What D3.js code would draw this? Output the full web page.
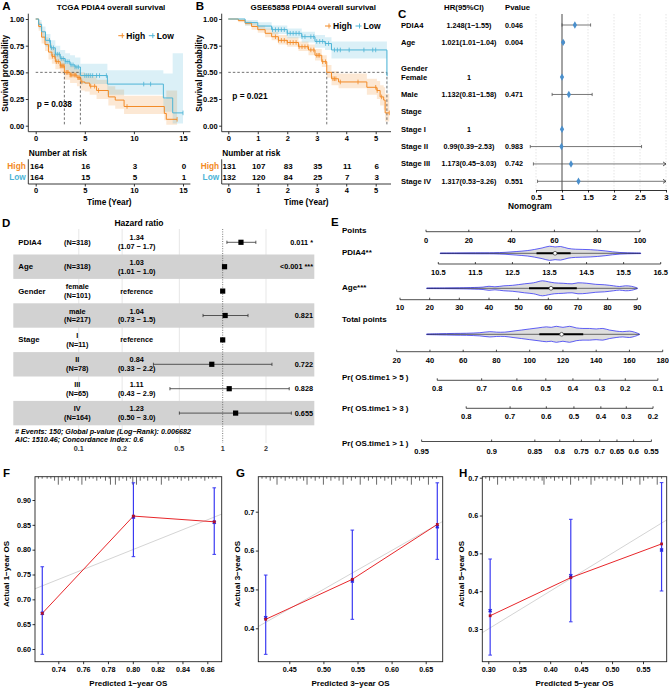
<!DOCTYPE html>
<html><head><meta charset="utf-8">
<script src="https://cdn.jsdelivr.net/npm/d3@7/dist/d3.min.js"></script>
<style>
html,body{margin:0;padding:0;background:#fff;}
svg text{font-family:"Liberation Sans",Arial,Helvetica,sans-serif;font-weight:bold;}
</style></head><body>
<svg id="fig" width="669" height="689" xmlns="http://www.w3.org/2000/svg"></svg>
<script>
// ================= DATA =================
// Panel A: TCGA Kaplan-Meier
const aHighTime=[0,0.3,0.6,0.95,1.3,1.65,2.0,2.5,2.92,3.5,4.2,4.6,5.0,5.5,6.2,7.4,8.1,9.0,13.1,13.3];
const aHighSurv=[1,0.93,0.83,0.76,0.69,0.65,0.60,0.56,0.50,0.475,0.45,0.41,0.40,0.37,0.33,0.27,0.24,0.18,0.115,0.06];
const aHighLower=[1,0.89,0.77,0.70,0.62,0.58,0.53,0.49,0.43,0.40,0.37,0.33,0.32,0.29,0.25,0.19,0.16,0.11,0.05,0.01];
const aHighUpper=[1,0.97,0.89,0.83,0.77,0.73,0.68,0.64,0.58,0.56,0.53,0.50,0.49,0.46,0.43,0.37,0.34,0.28,0.25,0.33];
const aHighEnd=14.4;
const aHighCensor=[1.7,1.9,2.1,2.3,2.5,2.6,2.7,2.8,2.9,3.1,3.2,3.3,3.5,3.6,3.7,3.9,4.0,4.1,4.3,4.4,4.5,4.7,5.6,6.0,6.4,9.3,14.4];
const aLowTime=[0,0.3,0.6,1.0,1.5,2.0,2.5,3.0,3.5,4.0,4.55,7.3,13.0,13.95];
const aLowSurv=[1,0.95,0.88,0.80,0.73,0.67,0.63,0.60,0.57,0.55,0.47,0.39,0.26,0.12];
const aLowLower=[1,0.91,0.83,0.74,0.66,0.60,0.56,0.52,0.49,0.47,0.39,0.29,0.13,0.02];
const aLowUpper=[1,0.99,0.93,0.86,0.80,0.75,0.71,0.68,0.66,0.64,0.58,0.52,0.49,0.68];
const aLowEnd=15.0;
const aLowCensor=[1.4,1.6,1.8,2.0,2.2,2.4,2.6,2.8,3.0,3.2,3.4,3.6,3.8,4.0,4.2,4.35,5.0,5.2,5.4,5.6,5.8,6.2,6.5,7.2,11.0,11.7,15.0];
const aMedians=[2.92,4.55];
const aTimeTicks=[0,5,10,15];
const aRiskHigh=[164,16,3,0];
const aRiskLow=[164,15,5,1];

// Panel B: GSE65858 Kaplan-Meier
const bHighTime=[0,0.34,0.57,0.79,1.0,1.25,1.47,1.7,2.0,2.38,2.72,2.94,3.17,3.34,3.5,3.74,4.7,5.04,5.15,5.27,5.32];
const bHighSurv=[1,0.985,0.96,0.93,0.90,0.866,0.834,0.80,0.78,0.74,0.71,0.66,0.60,0.50,0.44,0.41,0.36,0.33,0.27,0.24,0.12];
const bHighLower=[1,0.97,0.94,0.90,0.87,0.83,0.80,0.76,0.74,0.70,0.66,0.61,0.55,0.45,0.38,0.35,0.29,0.25,0.19,0.15,0.04];
const bHighUpper=[1,1,0.98,0.96,0.94,0.91,0.88,0.85,0.83,0.79,0.76,0.72,0.66,0.57,0.51,0.49,0.44,0.42,0.38,0.36,0.30];
const bHighEnd=5.46;
const bHighCensor=[1.6,1.7,1.8,1.9,2.0,2.1,2.2,2.3,2.4,2.5,2.6,2.7,2.8,2.9,3.0,3.05,3.1,3.2,3.3,3.55,3.6,3.65,3.8,4.4,5.0,5.05,5.2,5.46];
const bLowTime=[0,0.57,1.0,1.47,2.0,2.49,2.94,3.28,3.5,5.38];
const bLowSurv=[1,0.966,0.934,0.90,0.866,0.834,0.79,0.77,0.71,0.47];
const bLowLower=[1,0.94,0.90,0.86,0.82,0.78,0.73,0.71,0.63,0.30];
const bLowUpper=[1,0.99,0.97,0.94,0.91,0.88,0.85,0.83,0.79,0.70];
const bLowEnd=5.40;
const bLowCensor=[1.5,1.6,1.7,1.8,1.9,2.0,2.1,2.2,2.3,2.4,2.5,2.6,2.8,2.9,3.0,3.1,3.2,3.3,3.4,3.6,3.7,3.8,4.1,4.6,4.9,5.0];
const bMedians=[3.34,5.38];
const bTimeTicks=[0,1,2,3,4,5];
const bRiskHigh=[131,107,83,35,11,6];
const bRiskLow=[132,120,84,25,7,3];

// Panel C: multivariate forest
const cLabels=["PDIA4","Age","Gender","Female","Male","Stage","Stage I","Stage II","Stage III","Stage IV"];
const cHRText=["1.248(1\u22121.55)","1.021(1.01\u22121.04)","","1","1.132(0.81\u22121.58)","","1","0.99(0.39\u22122.53)","1.173(0.45\u22123.03)","1.317(0.53\u22123.26)"];
const cPText=["0.046","0.004","","","0.471","","","0.983","0.742","0.551"];
const cHR=[1.248,1.021,null,1,1.132,null,1,0.99,1.173,1.317];
const cLow=[1,1.01,null,null,0.81,null,null,0.39,0.45,0.53];
const cHigh=[1.55,1.04,null,null,1.58,null,null,2.53,3.03,3.26];
const cTicks=[0.5,1,1.5,2,2.5,3];

// Panel D: ggforest
const dVars=["PDIA4","Age","Gender","","Stage","","",""];
const dGroups=[["(N=318)"],["(N=318)"],["female","(N=101)"],["male","(N=217)"],["I","(N=11)"],["II","(N=78)"],["III","(N=65)"],["IV","(N=164)"]];
const dHRText=[["1.34","(1.07 \u2212 1.7)"],["1.03","(1.01 \u2212 1.0)"],["reference"],["1.04","(0.73 \u2212 1.5)"],["reference"],["0.84","(0.33 \u2212 2.2)"],["1.11","(0.43 \u2212 2.9)"],["1.23","(0.50 \u2212 3.0)"]];
const dHR=[1.34,1.03,1,1.04,1,0.84,1.11,1.23];
const dLow=[1.07,1.01,null,0.73,null,0.33,0.43,0.50];
const dHigh=[1.7,1.05,null,1.5,null,2.2,2.9,3.0];
const dP=["0.011 *","<0.001 ***","","0.821","","0.722","0.828","0.655"];
const dTicks=[0.1,0.2,0.5,1,2];
const dFoot=["# Events: 150; Global p-value (Log\u2212Rank): 0.006682","AIC: 1510.46; Concordance Index: 0.6"];

// Panel E: nomogram
const ePointTicks=[0,20,40,60,80,100];
const ePdia4Ticks=[10.5,11.5,12.5,13.5,14.5,15.5,16.5];
const eAgeTicks=[10,20,30,40,50,60,70,80,90];
const eTotalTicks=[20,40,60,80,100,120,140,160,180];
const ePr5Labels=["0.8","0.7","0.6","0.5","0.4","0.3","0.2","0.1"];
const ePr5Points=[44.4,71.1,92.3,109.7,126.0,142.2,157.5,177.1];
const ePr3Labels=["0.8","0.7","0.6","0.5","0.4","0.3","0.2"];
const ePr3Points=[61.8,88.2,110.0,126.6,142.8,158.1,174.2];
const ePr1Labels=["0.95","0.9","0.85","0.8","0.75","0.7","0.65","0.6","0.55"];
const ePr1Points=[35.0,77.1,103.1,118.1,131.1,142.1,152.5,162.5,173.2];
const ePdia4DensV=[10.55,11.0,11.5,12.0,12.3,12.6,12.9,13.1,13.3,13.5,13.65,13.8,14.0,14.2,14.4,14.6,14.8,15.0,15.2,15.4,15.6,15.8,15.96];
const ePdia4DensW=[0.04,0.05,0.07,0.08,0.13,0.24,0.37,0.53,0.73,0.97,0.87,0.93,0.67,0.56,0.53,0.5,0.43,0.33,0.2,0.11,0.07,0.05,0.04];
const ePdia4Box=[13.15,13.65,14.07];
const eAgeDensV=[19,25,30,35,38,40,42,45,48,52,55,58,60,62,65,68,70,73,76,79,82,84,86,88,90];
const eAgeDensW=[0.04,0.05,0.07,0.11,0.16,0.27,0.2,0.33,0.4,0.6,0.73,1.0,0.87,0.73,0.67,0.6,0.73,0.67,0.53,0.47,0.33,0.24,0.33,0.27,0.05];
const eAgeBox=[53.5,60.9,69.6];
const eTotalDensV=[38,45,55,62,70,76,80,85,90,95,100,105,110,113,116,120,124,128,132,136,140,144,148,152,156,160,163,166];
const eTotalDensW=[0.04,0.07,0.11,0.13,0.2,0.33,0.27,0.27,0.4,0.53,0.67,0.8,0.93,0.87,1.0,0.87,1.0,0.8,0.73,0.73,0.67,0.73,0.53,0.4,0.33,0.4,0.27,0.04];
const eTotalBox=[105.8,119.2,132.2];

// Panels F-H: calibration
const fPred=[0.7271,0.8005,0.8656], fObs=[0.6718,0.8676,0.8561], fObsCorr=[0.672,0.866,0.855], fLow=[0.5893,0.7859,0.7905], fHigh=[0.7656,0.9346,0.9245];
const gPred=[0.4154,0.5424,0.667], gObs=[0.4231,0.526,0.6673], gObsCorr=[0.427,0.522,0.661], gLow=[0.333,0.4231,0.5774], gHigh=[0.537,0.6527,0.7743];
const hPred=[0.303,0.4333,0.58], hObs=[0.335,0.4357,0.5249], hObsCorr=[0.348,0.441,0.509], hLow=[0.231,0.319,0.4005], hHigh=[0.485,0.590,0.687];
const fXTicks=[0.74,0.76,0.78,0.80,0.82,0.84,0.86], fYTicks=[0.60,0.65,0.70,0.75,0.80,0.85,0.90];
const gXTicks=[0.45,0.50,0.55,0.60,0.65], gYTicks=[0.4,0.5,0.6,0.7];
const hXTicks=[0.30,0.35,0.40,0.45,0.50,0.55], hYTicks=[0.3,0.4,0.5,0.6,0.7];
const fRugX=[0.724,0.727,0.731,0.734,0.737,0.740,0.743,0.746,0.749,0.753,0.756,0.759,0.762,0.765,0.768,0.771,0.774,0.778,0.781,0.782,0.786,0.789,0.792,0.795,0.798,0.800,0.803,0.806,0.809,0.812,0.816,0.819,0.823,0.826,0.829,0.833,0.836,0.839,0.842,0.845,0.848,0.851,0.855,0.858,0.861,0.864,0.867];
const fRugN=[1,1,1,1,2,4,2,1,2,1,2,4,2,1,1,2,1,2,1,4,4,2,1,2,1,4,4,2,1,2,1,2,4,1,2,1,1,2,1,2,1,1,1,2,1,1,1];
const gRugX=[0.410,0.416,0.422,0.427,0.432,0.438,0.444,0.450,0.455,0.461,0.466,0.471,0.476,0.482,0.488,0.494,0.500,0.505,0.511,0.517,0.523,0.529,0.535,0.541,0.547,0.554,0.560,0.566,0.572,0.578,0.584,0.590,0.595,0.600,0.606,0.612,0.618,0.623,0.629,0.635,0.641,0.647,0.654,0.660,0.666];
const gRugN=[1,1,2,1,4,1,2,1,1,2,1,2,4,1,2,1,4,1,2,1,2,4,1,2,1,4,1,2,1,4,1,2,1,4,2,1,1,2,4,1,2,1,4,1,1];
const hRugX=[0.296,0.302,0.309,0.315,0.322,0.328,0.335,0.341,0.348,0.355,0.361,0.368,0.374,0.381,0.387,0.390,0.394,0.401,0.407,0.414,0.420,0.427,0.433,0.440,0.446,0.453,0.459,0.466,0.472,0.479,0.485,0.492,0.498,0.505,0.511,0.517,0.524,0.530,0.537,0.545,0.551,0.558,0.565,0.573,0.580];
const hRugN=[1,2,1,4,1,2,1,2,1,1,2,1,2,1,2,4,1,1,2,1,2,1,4,1,2,1,1,4,2,1,1,2,1,2,1,4,1,2,1,4,2,1,1,4,1];

// ================= DRAWING =================
const svg=d3.select("#fig");
svg.append("rect").attr("width",669).attr("height",689).attr("fill","#fff");
const ORANGE="#F28A26", BLUE="#4DB4D6";

function T(g,x,y,s,o={}){
  const t=g.append("text").attr("x",x).attr("y",y).text(s)
    .attr("font-size",o.size||7.5)
    .attr("text-anchor",o.anchor||"start")
    .attr("dominant-baseline","central");
  if(o.color) t.style("fill",o.color);
  if(o.italic) t.style("font-style","italic");
  if(o.rotate) t.attr("transform",`rotate(${o.rotate},${x},${y})`);
  return t;
}
function L(g,x1,y1,x2,y2,col,w,dash){
  const l=g.append("line").attr("x1",x1).attr("y1",y1).attr("x2",x2).attr("y2",y2)
    .attr("stroke",col||"#000").attr("stroke-width",w||0.8);
  if(dash) l.attr("stroke-dasharray",dash);
  return l;
}
function styleAxis(sel,size){
  sel.attr("font-size",size||7.5).attr("font-family",null);
  sel.selectAll(".tick line").attr("stroke-width",0.8);
}

// ---------- Kaplan-Meier panels ----------
function drawKM(c){
  const g=svg.append("g");
  const x=d3.scaleLinear().domain([0,c.ticks[c.ticks.length-1]]).range([c.x0,c.x1]);
  const y=d3.scaleLinear().domain([0,1]).range([125.7,19]);
  const groups=[
    {t:c.high[0],s:c.high[1],lo:c.high[2],hi:c.high[3],end:c.high[4],cen:c.high[5],col:ORANGE},
    {t:c.low[0],s:c.low[1],lo:c.low[2],hi:c.low[3],end:c.low[4],cen:c.low[5],col:BLUE}
  ];
  groups.forEach(gr=>{
    const pts=gr.t.map((t,i)=>({t:t,s:gr.s[i],lo:gr.lo[i],hi:gr.hi[i]}));
    const last=pts[pts.length-1];
    pts.push({t:gr.end,s:last.s,lo:last.lo,hi:last.hi});
    gr.pts=pts;
    g.append("path").attr("d",d3.area().curve(d3.curveStepAfter).x(d=>x(d.t)).y0(d=>y(d.lo)).y1(d=>y(d.hi))(pts))
      .attr("fill",gr.col).attr("fill-opacity",0.2).attr("stroke","none");
  });
  // median lines
  const mMax=d3.max(c.medians);
  L(g,x(0),y(0.5),x(mMax),y(0.5),"#333",0.7,"2.5,2");
  c.medians.forEach(m=>L(g,x(m),y(0.5),x(m),y(0),"#333",0.7,"2.5,2"));
  groups.forEach(gr=>{
    g.append("path").attr("d",d3.line().curve(d3.curveStepAfter).x(d=>x(d.t)).y(d=>y(d.s))(gr.pts))
      .attr("fill","none").attr("stroke",gr.col).attr("stroke-width",1);
    gr.cen.forEach(t=>{
      const i=Math.max(0,d3.bisectRight(gr.t,t)-1);
      const s=gr.s[i];
      L(g,x(t),y(s)-2.3,x(t),y(s)+2.3,gr.col,0.8);
    });
  });
  // axes
  const ya=g.append("g").attr("transform",`translate(${c.ax},0)`)
    .call(d3.axisLeft(y).tickValues([0,0.25,0.5,0.75,1]).tickFormat(d3.format(".2f")).tickSize(2.5).tickPadding(1.5));
  ya.select(".domain").remove(); styleAxis(ya,7.5);
  L(g,c.ax,13.7,c.ax,131.7,"#222",0.9);
  const xa=g.append("g").attr("transform","translate(0,131.7)")
    .call(d3.axisBottom(x).tickValues(c.ticks).tickFormat(d3.format("d")).tickSize(2.5).tickPadding(1.5));
  xa.select(".domain").remove(); styleAxis(xa,7.5);
  L(g,c.ax,131.7,c.axEnd,131.7,"#222",0.9);
  T(g,c.ax-22.8,73.3,"Survival probability",{size:8.3,anchor:"middle",rotate:-90});
  // title & label
  T(g,c.titleX,7,c.title,{size:8,anchor:"middle"});
  T(g,c.ax-26,6,c.label,{size:11.5});
  // legend
  const lx=c.legX, ly=c.legY;
  [[ORANGE,"High",0],[BLUE,"Low",30.5]].forEach(([col,lab,off])=>{
    L(g,lx+off,ly,lx+off+6,ly,col,1);
    L(g,lx+off+4,ly-2.5,lx+off+4,ly+2.5,col,0.9);
    T(g,lx+off+8,ly,lab,{size:8.5});
  });
  T(g,c.pX,c.pY,c.pText,{size:8.3});
  // risk table
  T(g,c.ax+0.5,153,"Number at risk",{size:8.3});
  T(g,c.ax-2.5,166,"High",{size:8.3,anchor:"end",color:ORANGE});
  T(g,c.ax-2.5,177,"Low",{size:8.3,anchor:"end",color:BLUE});
  c.ticks.forEach((tk,i)=>{
    T(g,x(tk)+1,166,String(c.riskHigh[i]),{size:8,anchor:"middle"});
    T(g,x(tk)+1,177,String(c.riskLow[i]),{size:8,anchor:"middle"});
  });
  L(g,c.ax,159.3,c.ax,184,"#222",0.9);
  const ra=g.append("g").attr("transform","translate(0,184)")
    .call(d3.axisBottom(x).tickValues(c.ticks).tickFormat(d3.format("d")).tickSize(2.5).tickPadding(1.5));
  ra.select(".domain").remove(); styleAxis(ra,7.5);
  L(g,c.ax,184,c.axEnd,184,"#222",0.9);
  T(g,(c.ax+c.axEnd)/2,202,"Time (Year)",{size:8.3,anchor:"middle"});
}
drawKM({x0:35.7,x1:183,ax:28.3,axEnd:190.4,ticks:aTimeTicks,medians:aMedians,
  high:[aHighTime,aHighSurv,aHighLower,aHighUpper,aHighEnd,aHighCensor],
  low:[aLowTime,aLowSurv,aLowLower,aLowUpper,aLowEnd,aLowCensor],
  title:"TCGA PDIA4 overall survival",titleX:111,label:"A",legX:118.3,legY:35.7,
  pText:"p = 0.038",pX:36.7,pY:104.3,riskHigh:aRiskHigh,riskLow:aRiskLow});
drawKM({x0:228.3,x1:375.7,ax:221.7,axEnd:391,ticks:bTimeTicks,medians:bMedians,
  high:[bHighTime,bHighSurv,bHighLower,bHighUpper,bHighEnd,bHighCensor],
  low:[bLowTime,bLowSurv,bLowLower,bLowUpper,bLowEnd,bLowCensor],
  title:"GSE65858 PDIA4 overall survival",titleX:313.3,label:"B",legX:325,legY:26,
  pText:"p = 0.021",pX:232.3,pY:96,riskHigh:bRiskHigh,riskLow:bRiskLow});

// ---------- Panel C ----------
(function(){
  const g=svg.append("g");
  const x=d3.scaleLinear().domain([0.5,3]).range([536,666]);
  const row=d3.scaleLinear().domain([0,9]).range([25,181.3]);
  const rowIdx=i=>(cLabels[i]==="Gender"?2.5:i);
  T(g,398,14,"C",{size:11.5});
  T(g,464,7,"HR(95%CI)",{size:7.8,anchor:"middle"});
  T(g,505,7,"Pvalue",{size:7.8});
  cTicks.filter(v=>v!==1).forEach(v=>L(g,x(v),14,x(v),190,"#c8c8c8",0.5,"1.5,1.5"));
  L(g,x(1),14,x(1),190,"#333",0.9);
  cLabels.forEach((lab,i)=>{
    const yy=row(rowIdx(i));
    T(g,401,yy,lab,{size:7.6});
    if(cHRText[i]) T(g,469,yy,cHRText[i],{size:7.2,anchor:"middle"});
    if(cPText[i]) T(g,505,yy,cPText[i],{size:7.2});
    if(cHR[i]!=null){
      if(cLow[i]!=null){
        const hiClip=Math.min(cHigh[i],3);
        L(g,x(cLow[i]),yy,x(hiClip),yy,"#555",0.8);
        L(g,x(cLow[i]),yy-1.6,x(cLow[i]),yy+1.6,"#555",0.8);
        if(cHigh[i]>3){
          g.append("path").attr("d",`M${x(3)-3},${yy-2}L${x(3)},${yy}L${x(3)-3},${yy+2}`).attr("fill","none").attr("stroke","#333").attr("stroke-width",0.8);
        } else {
          L(g,x(cHigh[i]),yy-1.6,x(cHigh[i]),yy+1.6,"#555",0.8);
        }
      }
      g.append("path").attr("d",d3.symbol().type(d3.symbolDiamond).size(16)())
        .attr("transform",`translate(${x(cHR[i])},${yy})`).attr("fill","#4A8FCC");
    }
  });
  const xa=g.append("g").attr("transform","translate(0,190)")
    .call(d3.axisBottom(x).tickValues(cTicks).tickFormat(d=>String(d)).tickSize(2.5).tickSizeOuter(0).tickPadding(1.5));
  styleAxis(xa,7.8);
  xa.select(".domain").attr("stroke-width",0.8);
})();

// ---------- Panel D ----------
(function(){
  const g=svg.append("g");
  const x=d3.scaleLog().domain([0.1,2]).range([78.8,266]);
  const row=d3.scaleLinear().domain([0,7]).range([242.3,413.1]);
  const h=24.4;
  T(g,2,223,"D",{size:11.5});
  T(g,139,223,"Hazard ratio",{size:8.5,anchor:"middle"});
  dTicks.filter(v=>v!==1).forEach(v=>L(g,x(v),229,x(v),443,"#dcdcdc",0.7));
  dVars.forEach((v,i)=>{
    if(i%2===1) g.append("rect").attr("x",13.3).attr("y",row(i)-h/2).attr("width",301).attr("height",h).attr("fill","#d2d2d2");
  });
  L(g,x(1),229,x(1),443,"#444",0.7,"1,1.4");
  dVars.forEach((v,i)=>{
    const yy=row(i);
    if(v) T(g,18.3,yy,v,{size:7.8});
    const gr=dGroups[i];
    if(gr.length===1) T(g,77.3,yy,gr[0],{size:7.3,anchor:"middle"});
    else { T(g,77.3,yy-4.4,gr[0],{size:7.3,anchor:"middle"}); T(g,77.3,yy+4.4,gr[1],{size:7.3,anchor:"middle"}); }
    const hr=dHRText[i];
    if(hr.length===1) T(g,136.7,yy,hr[0],{size:7.3,anchor:"middle"});
    else { T(g,136.7,yy-4.4,hr[0],{size:7.3,anchor:"middle"}); T(g,136.7,yy+4.4,hr[1],{size:7.3,anchor:"middle"}); }
    if(dP[i]) T(g,313,yy,dP[i],{size:7.3,anchor:"end"});
    if(dLow[i]!=null){
      L(g,x(dLow[i]),yy,x(dHigh[i]),yy,"#333",0.8);
      L(g,x(dLow[i]),yy-1.6,x(dLow[i]),yy+1.6,"#333",0.8);
      L(g,x(dHigh[i]),yy-1.6,x(dHigh[i]),yy+1.6,"#333",0.8);
    }
    g.append("rect").attr("x",x(dHR[i])-2.6).attr("y",yy-2.6).attr("width",5.2).attr("height",5.2).attr("fill","#000");
  });
  T(g,15,431.7,dFoot[0],{size:7.2,italic:true});
  T(g,15,439.3,dFoot[1],{size:7.2,italic:true});
  dTicks.forEach(v=>T(g,x(v),448.5,String(v),{size:7.2,anchor:"middle",color:"#333"}));
})();

// ---------- Panel E ----------
(function(){
  const g=svg.append("g");
  const ptsX=d3.scaleLinear().domain([0,100]).range([426,640]);
  const pdX=d3.scaleLinear().domain([10.5,16.5]).range([438.3,660.7]);
  const ageX=d3.scaleLinear().domain([10,90]).range([400,637.3]);
  const totX=d3.scaleLinear().domain([20,180]).range([396.7,662.7]);
  T(g,331,222,"E",{size:11.5});
  T(g,530,206,"Nomogram",{size:8.3,anchor:"middle"});
  function axisRow(yLine,yLab,positions,labels){
    L(g,d3.min(positions),yLine,d3.max(positions),yLine,"#000",0.7);
    positions.forEach((p,i)=>{
      L(g,p,yLine-2,p,yLine,"#000",0.7);
      T(g,p,yLab,labels[i],{size:7.5,anchor:"middle"});
    });
  }
  T(g,342,230,"Points",{size:8});
  axisRow(231.7,240,ePointTicks.map(ptsX),ePointTicks.map(String));
  T(g,342,252.7,"PDIA4**",{size:8});
  axisRow(264,272.7,ePdia4Ticks.map(pdX),ePdia4Ticks.map(v=>v.toFixed(1)));
  T(g,342,287.7,"Age***",{size:8});
  axisRow(299.7,307.3,eAgeTicks.map(ageX),eAgeTicks.map(String));
  T(g,342,319.3,"Total points",{size:8});
  axisRow(351.7,360,eTotalTicks.map(totX),eTotalTicks.map(String));
  T(g,342,377.7,"Pr( OS.time1 > 5 )",{size:8});
  axisRow(380.3,388.7,ePr5Points.map(totX),ePr5Labels);
  T(g,342,408.3,"Pr( OS.time1 > 3 )",{size:8});
  axisRow(408.3,416.7,ePr3Points.map(totX),ePr3Labels);
  T(g,342,443.3,"Pr( OS.time1 > 1 )",{size:8});
  axisRow(441.5,451.5,ePr1Points.map(totX),ePr1Labels);
  function violin(cy,scale,vals,dens,box,maxW){
    const w=d3.scaleLinear().domain([0,1]).range([0,maxW]);
    const pts=vals.map((v,i)=>({v:v,d:dens[i]}));
    g.append("path").attr("d",d3.area().curve(d3.curveCatmullRom).x(d=>scale(d.v)).y0(d=>cy+w(d.d)).y1(d=>cy-w(d.d))(pts))
      .attr("fill","#d8d8d8").attr("fill-opacity",0.85).attr("stroke","#1f1ff5").attr("stroke-width",0.7);
    L(g,scale(vals[0]),cy,scale(vals[vals.length-1]),cy,"#111",0.6);
    L(g,scale(box[0]),cy,scale(box[2]),cy,"#000",2);
    g.append("circle").attr("cx",scale(box[1])).attr("cy",cy).attr("r",1.9).attr("fill","#fff").attr("stroke","#333").attr("stroke-width",0.7);
  }
  violin(253.3,pdX,ePdia4DensV,ePdia4DensW,ePdia4Box,7.3);
  violin(288.3,ageX,eAgeDensV,eAgeDensW,eAgeBox,7.5);
  violin(334.3,totX,eTotalDensV,eTotalDensW,eTotalBox,8);
})();

// ---------- Panels F-H ----------
function calib(c){
  const g=svg.append("g");
  const x=d3.scaleLinear().domain(c.xd).range(c.xr);
  const y=d3.scaleLinear().domain(c.yd).range(c.yr);
  const [bx0,bx1,by0,by1]=c.box;
  const id="clip"+c.label;
  g.append("clipPath").attr("id",id).append("rect").attr("x",bx0).attr("y",by0).attr("width",bx1-bx0).attr("height",by1-by0);
  L(g,x(0),y(0),x(1),y(1),"#d4d4d4",1).attr("clip-path",`url(#${id})`);
  c.rugX.forEach((v,i)=>L(g,x(v),by0,x(v),by0+c.rugN[i]*2,"#000",0.6));
  c.pred.forEach((p,i)=>{
    L(g,x(p),y(c.lo[i]),x(p),y(c.hi[i]),"#3a3af2",1.2);
    L(g,x(p)-1.8,y(c.lo[i]),x(p)+1.8,y(c.lo[i]),"#3a3af2",1);
    L(g,x(p)-1.8,y(c.hi[i]),x(p)+1.8,y(c.hi[i]),"#3a3af2",1);
  });
  g.append("path").attr("d",d3.line().x((d,i)=>x(c.pred[i])).y(d=>y(d))(c.obs))
    .attr("fill","none").attr("stroke","#e8262a").attr("stroke-width",1);
  c.pred.forEach((p,i)=>{
    g.append("path").attr("d",d3.symbol().type(d3.symbolCross).size(10)())
      .attr("transform",`translate(${x(p)},${y(c.corr[i])}) rotate(45)`).attr("fill","#2020e0");
    g.append("rect").attr("x",x(p)-1.4).attr("y",y(c.obs[i])-1.4).attr("width",2.8).attr("height",2.8).attr("fill","#b0102a");
  });
  g.append("rect").attr("x",bx0).attr("y",by0).attr("width",bx1-bx0).attr("height",by1-by0)
    .attr("fill","none").attr("stroke","#222").attr("stroke-width",0.9);
  const ya=g.append("g").attr("transform",`translate(${bx0},0)`)
    .call(d3.axisLeft(y).tickValues(c.yt).tickFormat(d3.format(c.yf)).tickSize(2.5).tickPadding(1.5));
  ya.select(".domain").remove(); styleAxis(ya,7.2);
  const xa=g.append("g").attr("transform",`translate(0,${by1})`)
    .call(d3.axisBottom(x).tickValues(c.xt).tickFormat(d3.format(".2f")).tickSize(2.5).tickPadding(2.5));
  xa.select(".domain").remove(); styleAxis(xa,7.2);
  T(g,c.ytX,574,c.ytitle,{size:8,anchor:"middle",rotate:-90});
  T(g,(bx0+bx1)/2,683.3,c.xtitle,{size:8,anchor:"middle"});
  T(g,c.labX,472.8,c.label,{size:11.5});
}
calib({label:"F",xd:[0.74,0.86],xr:[58.3,207.3],yd:[0.6,0.9],yr:[649,500],box:[35,221.7,476.7,661.7],
  pred:fPred,obs:fObs,corr:fObsCorr,lo:fLow,hi:fHigh,rugX:fRugX,rugN:fRugN,xt:fXTicks,yt:fYTicks,yf:".2f",
  ytitle:"Actual 1\u2212year OS",xtitle:"Predicted 1\u2212year OS",ytX:6.7,labX:3});
calib({label:"G",xd:[0.45,0.65],xr:[289.3,425.7],yd:[0.4,0.7],yr:[628.3,511.7],box:[258.3,442.7,476.7,661.7],
  pred:gPred,obs:gObs,corr:gObsCorr,lo:gLow,hi:gHigh,rugX:gRugX,rugN:gRugN,xt:gXTicks,yt:gYTicks,yf:".1f",
  ytitle:"Actual 3\u2212year OS",xtitle:"Predicted 3\u2212year OS",ytX:237.3,labX:236});
calib({label:"H",xd:[0.3,0.55],xr:[488.3,643],yd:[0.3,0.7],yr:[629,477.7],box:[482.3,666.7,476.7,661.7],
  pred:hPred,obs:hObs,corr:hObsCorr,lo:hLow,hi:hHigh,rugX:hRugX,rugN:hRugN,xt:hXTicks,yt:hYTicks,yf:".1f",
  ytitle:"Actual 5\u2212year OS",xtitle:"Predicted 5\u2212year OS",ytX:461,labX:459});
</script></body></html>
